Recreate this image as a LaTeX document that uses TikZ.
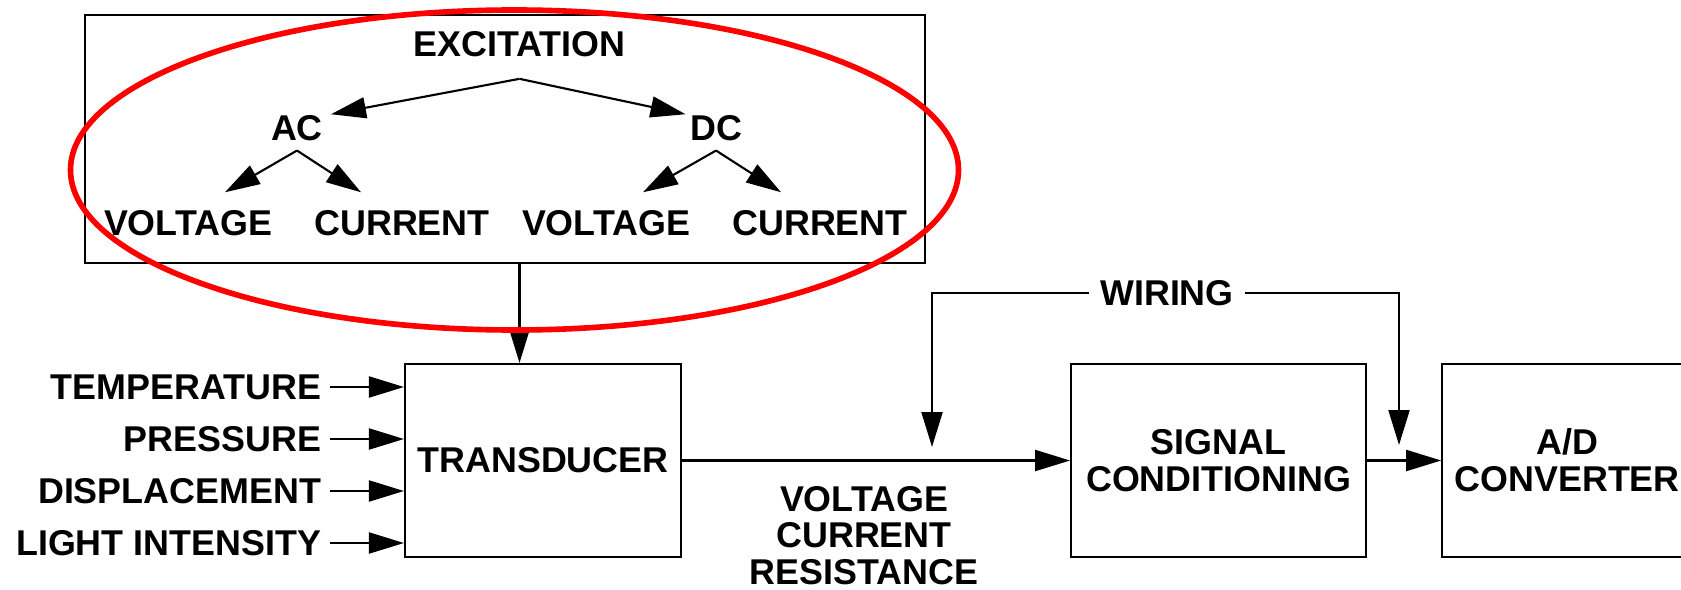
\documentclass[tikz,border=0pt]{standalone}
\usepackage{fontspec}
\setmainfont{Liberation Sans}
\usetikzlibrary{arrows.meta,positioning}

\begin{document}
\begin{tikzpicture}[font=\fontsize{10.2}{10.5}\selectfont\bfseries, >={Triangle[length=3.5mm,width=2.1mm]}, line width=0.6pt,
  every node/.style={align=center,inner sep=0pt},
  blk/.style={draw,minimum height=1.93cm}]
\useasboundingbox (0,0) rectangle (16.81,-5.89);
% excitation tree
\node[draw,minimum width=8.4cm,minimum height=2.48cm] (excbox) at (5.05,-1.39) {};
\node (exc) at (5.195,-0.44) {EXCITATION};
\node (ac) at (2.97,-1.28) {AC};
\node (dc) at (7.16,-1.28) {DC};
\node (acv) at (1.88,-2.23) {VOLTAGE};
\node (acc) at (4.02,-2.23) {CURRENT};
\node (dcv) at (6.06,-2.23) {VOLTAGE};
\node (dcc) at (8.20,-2.23) {CURRENT};
\draw[->] ([yshift=-6pt]exc.south) -- ([xshift=2pt]ac.north east);
\draw[->] ([yshift=-6pt]exc.south) -- ([xshift=-1pt]dc.north west);
\draw[->] ([yshift=-2.5pt]ac.south) -- ([xshift=0.37cm,yshift=0.17cm]acv.north);
\draw[->] ([yshift=-2.5pt]ac.south) -- ([xshift=-0.41cm,yshift=0.17cm]acc.north);
\draw[->] ([yshift=-2.5pt]dc.south) -- ([xshift=0.37cm,yshift=0.17cm]dcv.north);
\draw[->] ([yshift=-2.5pt]dc.south) -- ([xshift=-0.39cm,yshift=0.17cm]dcc.north);
% signal chain
\node[blk,minimum width=2.76cm] (trans) at (5.43,-4.605) {TRANSDUCER};
\node[blk,minimum width=2.95cm,right=3.88cm of trans] (sc) {SIGNAL\\CONDITIONING};
\node[blk,minimum width=2.5cm,right=0.74cm of sc] (ad) {A/D\\CONVERTER};
\node[anchor=east] (temp) at (3.22,-3.87) {TEMPERATURE};
\node[anchor=east] (pres) at (3.22,-4.39) {PRESSURE};
\node[anchor=east] (disp) at (3.22,-4.91) {DISPLACEMENT};
\node[anchor=east] (light) at (3.22,-5.43) {LIGHT INTENSITY};
\draw[->] ([xshift=0.08cm]temp.east) -- (temp -| trans.west);
\draw[->] ([xshift=0.08cm]pres.east) -- (pres -| trans.west);
\draw[->] ([xshift=0.08cm]disp.east) -- (disp -| trans.west);
\draw[->] ([xshift=0.08cm]light.east) -- (light -| trans.west);
\draw[->] (exc |- excbox.south) -- (exc |- trans.north);
\draw[->] (trans) -- (sc);
\draw[->] (sc) -- (ad);
\node[anchor=north] (vcr) at (8.64,-4.85) {VOLTAGE\\CURRENT\\RESISTANCE};
% wiring
\node[inner xsep=0.1cm] (wir) at (11.67,-2.93) {WIRING};
\coordinate (tapl) at (9.32,-4.47);
\coordinate (tapr) at (13.99,-4.45);
\draw[->] (wir.west) -| (tapl);
\draw[->] (wir.east) -| (tapr);
% highlight
\draw[red,line width=1.6pt] (5.145,-1.70) ellipse [x radius=4.44cm,y radius=1.60cm];
\end{tikzpicture}
\end{document}
